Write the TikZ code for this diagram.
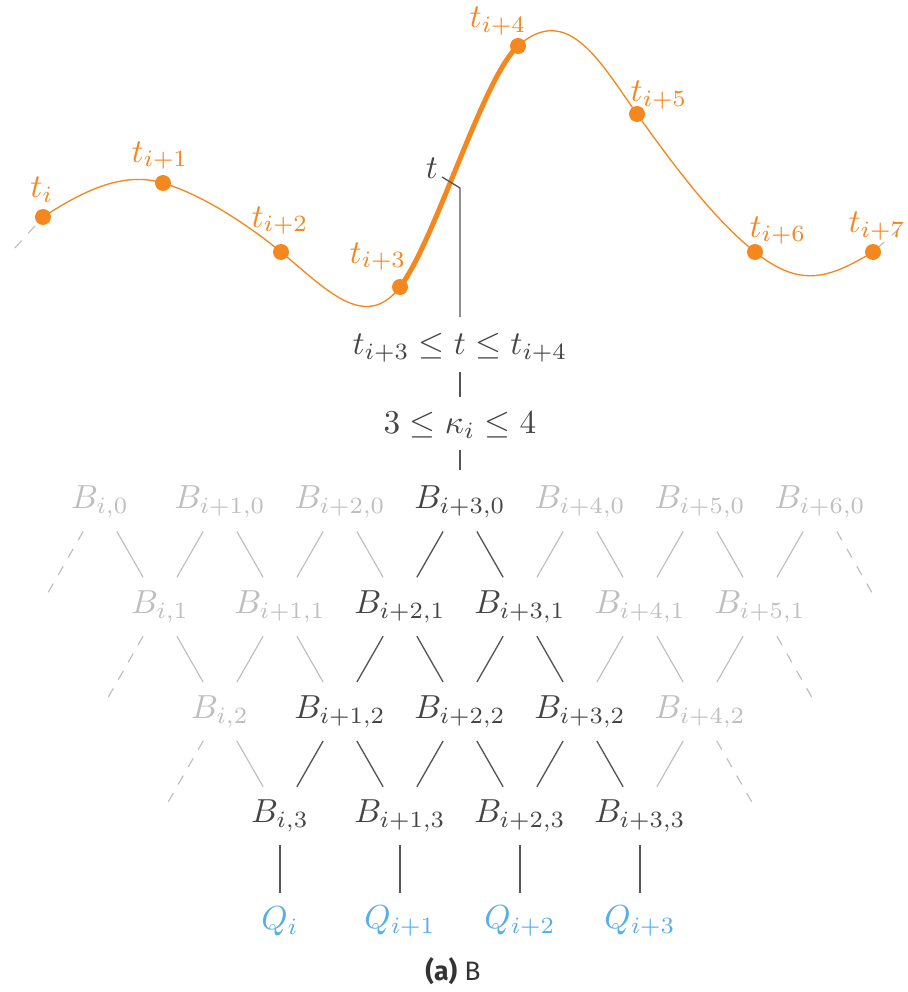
\documentclass[tikz,border=0pt]{standalone}
\usepackage{fontspec}
\newfontfamily\capfont{Fira Sans}
\definecolor{korange}{HTML}{F5871F}
\definecolor{kdark}{HTML}{454545}
\definecolor{klight}{HTML}{BEBEBE}
\definecolor{kblue}{HTML}{58AEE6}
\definecolor{kline}{HTML}{555555}
\definecolor{kcap}{HTML}{333333}
\begin{document}
\begin{tikzpicture}[x=0.3pt,y=-0.3pt,
  knot/.style={circle,fill=korange,inner sep=0pt,minimum size=4.8pt},
  klab/.style={text=korange,inner sep=0pt,anchor=base},
  bsty/.style={inner sep=0pt,text=#1},
  qnode/.style={inner sep=0pt,text=kblue},
  dl/.style={draw=kline,line width=0.4pt},
  ll/.style={draw=klight,line width=0.35pt},
  orthin/.style={draw=korange,line width=0.4pt},
  orthick/.style={draw=korange,line width=1.5pt},
]
\useasboundingbox (0,0) rectangle (907,992);

% knots
\coordinate (k0) at (43,217);
\coordinate (k1) at (163,183);
\coordinate (k2) at (281,252);
\coordinate (k3) at (400,287);
\coordinate (k4) at (518,46);
\coordinate (k5) at (637,114);
\coordinate (k6) at (755,252);
\coordinate (k7) at (873,252);
\coordinate (e0) at (13,250);
\coordinate (e7) at (900,228);

\draw[ll,dashed,shorten <=3.6pt] (k0) -- (e0);
\draw[ll,dashed,shorten <=1.5pt] (k7) -- (e7);

\draw[orthin] (k0) .. controls (83,191) and (123,171) .. (k1)
  .. controls (203,195) and (248,225) .. (k2)
  .. controls (326,289) and (365,332.5) .. (k3);
\draw[orthick] (k3) .. controls (435,241.5) and (483,77.5) .. (k4);
\draw[orthin] (k4) .. controls (568,1) and (602,65) .. (k5)
  .. controls (677,170) and (715,220) .. (k6)
  .. controls (800,288) and (828,279) .. (k7);

\foreach \i in {0,...,7} { \node[knot] (n\i) at (k\i) {}; }

\node[klab] (l0) at (42,197) {$t_i$};
\node[klab] (l1) at (160,162) {$t_{i+1}$};
\node[klab] (l2) at (280,227) {$t_{i+2}$};
\node[klab] (l3) at (378,263) {$t_{i+3}$};
\node[klab] (l4) at (498,28) {$t_{i+4}$};
\node[klab] (l5) at (659,102) {$t_{i+5}$};
\node[klab] (l6) at (778,237) {$t_{i+6}$};
\node[klab] (l7) at (877,233) {$t_{i+7}$};

% parameter t marker
\node[text=kdark,inner sep=0pt,anchor=base] (tl) at (432,178) {$t$};
\coordinate (ts) at (442,177);
\coordinate (tc) at (460,188);
\node[bsty=kdark] (ineq) at (460,348) {$t_{i+3}\le t\le t_{i+4}$};
\node[bsty=kdark] (kap) at (460,425) {$3\le\kappa_i\le 4$};

% lattice nodes
\foreach \r in {0,...,3} {
  \pgfmathtruncatemacro\n{6-\r}
  \foreach \k in {0,...,\n} {
    \pgfmathsetmacro\x{100+60*\r+120*\k}
    \pgfmathsetmacro\y{502+104.75*\r}
    \pgfmathtruncatemacro\dk{((\r+\k)>=3)&&(\k<=3)}
    \ifnum\dk=1 \def\col{kdark}\else\def\col{klight}\fi
    \ifnum\k=0 \def\idx{i}\else\def\idx{i+\k}\fi
    \node[bsty=\col] (b-\r-\k) at (\x,\y) {$B_{\idx,\r}$};
  }
}

% virtual ends for dashed lattice lines
\foreach \r in {0,1,2} {
  \pgfmathsetmacro\y{502+104.75*(\r+1)}
  \pgfmathsetmacro\xl{40+60*\r}
  \pgfmathsetmacro\xr{880-60*\r}
  \coordinate (vL-\r) at (\xl,\y);
  \coordinate (vR-\r) at (\xr,\y);
}

% lattice edges
\foreach \r in {0,1,2} {
  \pgfmathtruncatemacro\n{6-\r}
  \pgfmathtruncatemacro\rr{\r+1}
  \foreach \k in {0,...,\n} {
    \pgfmathtruncatemacro\dk{((\r+\k)>=3)&&(\k<=3)}
    \ifnum\dk=1 \def\lst{dl}\else\def\lst{ll}\fi
    \pgfmathtruncatemacro\km{\k-1}
    \ifnum\k=0
      \draw[ll,dashed,shorten <=10.2pt,shorten >=3.9pt] (b-\r-\k.center) -- (vL-\r);
    \else
      \draw[\lst,shorten <=10.2pt,shorten >=10.2pt] (b-\r-\k.center) -- (b-\rr-\km.center);
    \fi
    \ifnum\k=\n
      \draw[ll,dashed,shorten <=10.2pt,shorten >=3.9pt] (b-\r-\k.center) -- (vR-\r);
    \else
      \draw[\lst,shorten <=10.2pt,shorten >=10.2pt] (b-\r-\k.center) -- (b-\rr-\k.center);
    \fi
  }
}

% control points
\foreach \k in {0,...,3} {
  \pgfmathsetmacro\x{280+120*\k}
  \ifnum\k=0 \def\idx{i}\else\def\idx{i+\k}\fi
  \node[qnode] (q-\k) at (\x,921) {$Q_{\idx}$};
  \draw[dl,shorten <=8.7pt,shorten >=8.4pt] (b-3-\k.center) -- (q-\k.center);
}

% vertical chain
\draw[dl,shorten >=9.3pt] (ts) -- (tc) -- (ineq.center);
\draw[dl,shorten <=7.2pt,shorten >=8.4pt] (ineq.center) -- (kap.center);
\draw[dl,shorten <=7.5pt,shorten >=9.6pt] (kap.center) -- (b-0-3.center);

% caption
\node[font=\capfont\fontsize{8}{10}\selectfont,text=kcap,inner sep=0pt] (cap) at (453,971) {\textbf{(a)}\ B};
\end{tikzpicture}
\end{document}
